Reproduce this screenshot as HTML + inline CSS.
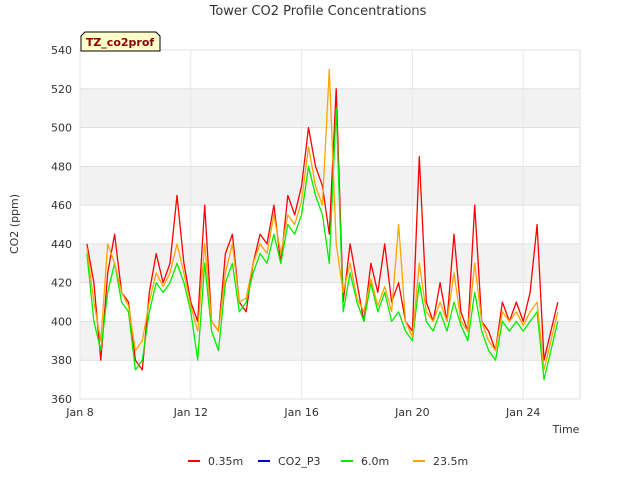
<!DOCTYPE html>
<html><head><meta charset="utf-8"><style>
body{margin:0;background:#fff;font-family:"DejaVu Sans","Liberation Sans",sans-serif}
</style></head><body>
<svg id="c" width="640" height="480" xmlns="http://www.w3.org/2000/svg" font-family="DejaVu Sans, Liberation Sans, sans-serif">
<text x="318" y="15" text-anchor="middle" font-size="13" fill="#333">Tower CO2 Profile Concentrations</text>
<text x="18" y="224" text-anchor="middle" font-size="11" fill="#333" transform="rotate(-90 18 224)">CO2 (ppm)</text>
<text x="566" y="433" text-anchor="middle" font-size="11" fill="#333">Time</text>
<g id="bands"></g><g id="grid"></g><g id="ticks"></g><g id="lines"></g>
<g>
<path d="M81,51 L81,36 L85,32 L156,32 L160,36 L160,51 Z" fill="#ffffcc" stroke="#000" stroke-width="1"/>
<text x="120" y="46" text-anchor="middle" font-size="11" font-weight="bold" fill="#8b0000">TZ_co2prof</text>
</g>
<g id="legend"></g>
</svg>
<script>
const startDay=8.25, step=0.25;
const s035=[440,420,380,425,445,415,410,380,375,415,435,420,430,465,430,410,400,460,400,395,435,445,410,405,430,445,440,460,430,465,455,470,500,480,470,445,520,410,440,420,400,430,415,440,410,420,400,395,485,410,400,420,400,445,405,395,460,400,395,385,410,400,410,400,415,450,380,395,410];
const sP3=[];
const s60=[435,400,385,415,430,410,405,375,380,405,420,415,420,430,420,405,380,430,395,385,420,430,405,410,425,435,430,445,430,450,445,455,480,465,455,430,510,405,425,410,400,420,405,415,400,405,395,390,420,400,395,405,395,410,398,390,415,395,385,380,400,395,400,395,400,405,370,385,400];
const s235=[438,410,390,440,430,415,408,385,390,410,425,418,425,440,425,408,395,440,400,395,425,440,410,412,430,440,435,455,435,455,450,462,490,470,460,530,440,415,430,412,405,422,408,418,405,450,400,392,430,405,400,410,400,425,400,395,430,400,390,385,405,400,405,398,405,410,375,390,405];
const yTicks=[360,380,400,420,440,460,480,500,520,540];
const xTicks=[8,12,16,20,24];
const xLabels=["Jan 8","Jan 12","Jan 16","Jan 20","Jan 24"];
const series=[{n:"0.35m",c:"#ff0000",d:s035},{n:"CO2_P3",c:"#0000cc",d:sP3},{n:"6.0m",c:"#00ee00",d:s60},{n:"23.5m",c:"#ffa500",d:s235}];
const X0=80,X1=580,Y0=399,Y1=50;
const xs=d=>X0+(d-8)*(X1-X0)/18.05;
const ys=v=>Y0-(v-360)*(Y0-Y1)/180;
const NS="http://www.w3.org/2000/svg";
function mk(t,a,p){const e=document.createElementNS(NS,t);for(const k in a)e.setAttribute(k,a[k]);p.appendChild(e);return e;}
const bands=document.getElementById('bands'),grid=document.getElementById('grid'),ticks=document.getElementById('ticks'),lines=document.getElementById('lines'),leg=document.getElementById('legend');
const bg=mk('rect',{x:X0,y:Y1,width:X1-X0,height:Y0-Y1,fill:'#fff',stroke:'#ddd'},bands);


for(let i=0;i<yTicks.length-1;i++){if(i%2===1){const b=mk('rect',{x:X0,y:ys(yTicks[i+1]),width:X1-X0,height:ys(yTicks[i])-ys(yTicks[i+1]),fill:'#f2f2f2'},bands);

}}
yTicks.forEach(v=>{const l=mk('line',{x1:X0,x2:X1,y1:ys(v),y2:ys(v),stroke:'#e0e0e0'},grid);


const t=mk('text',{x:X0-8,y:ys(v)+4,'text-anchor':'end','font-size':11,fill:'#333'},ticks);t.textContent=v;

});
xTicks.forEach((d,i)=>{const l=mk('line',{x1:xs(d),x2:xs(d),y1:Y1,y2:Y0,stroke:'#e8e8e8'},grid);


const t=mk('text',{x:xs(d),y:Y0+17,'text-anchor':'middle','font-size':11,fill:'#333'},ticks);t.textContent=xLabels[i];

});
series.forEach(s=>{if(!s.d.length)return;const p=s.d.map((v,i)=>(i?'L':'M')+xs(startDay+i*step).toFixed(1)+','+ys(v).toFixed(1)).join('');
const e=mk('path',{d:p,fill:'none',stroke:s.c,'stroke-width':1.3,'stroke-linejoin':'round'},lines);

});
const lx=[188,258,341,413];
series.forEach((s,i)=>{const g=mk('g',{},leg);


mk('line',{x1:lx[i],x2:lx[i]+12,y1:461,y2:461,stroke:s.c,'stroke-width':2},g);
const t=mk('text',{x:lx[i]+20,y:465,'font-size':11,fill:'#333'},g);t.textContent=s.n;});
</script>
</body></html>
